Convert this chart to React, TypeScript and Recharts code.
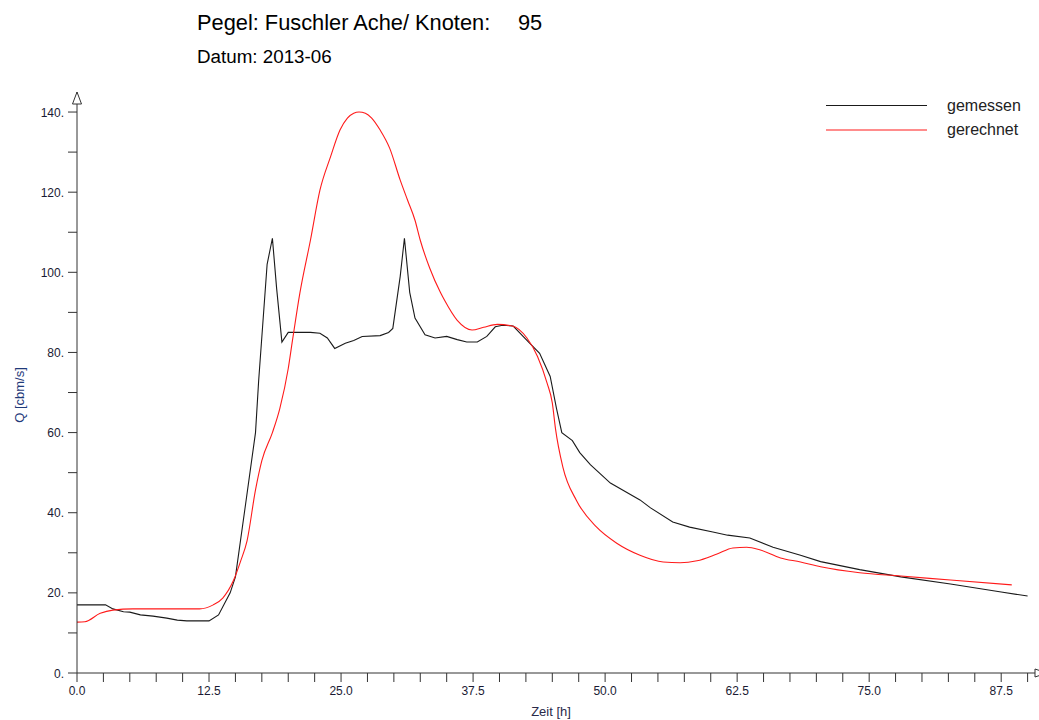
import React from 'react';
import { LineChart, Line, XAxis, YAxis, Legend, ReferenceDot } from 'recharts';

const titleLeft = 'Pegel: Fuschler Ache/ Knoten:';
const titleRight = '95';
const subtitleText = 'Datum: 2013-06';
const xAxisTitle = 'Zeit [h]';
const yAxisTitle = 'Q [cbm/s]';

const gemessenT = [0, 2.7, 3.4, 4.4, 5.0, 6.0, 7.2, 8.5, 9.5, 10.4, 12.5, 13.4, 14.5, 15.0, 15.9, 16.9, 17.2, 18.0, 18.5, 18.9, 19.4, 20.0, 22.1, 23.0, 23.7, 24.4, 25.4, 26.2, 27.0, 28.7, 29.5, 29.9, 30.6, 31.0, 31.5, 32.0, 32.95, 33.9, 35.0, 36.0, 36.9, 37.9, 38.8, 39.6, 40.3, 41.3, 42.6, 43.8, 44.8, 45.4, 45.9, 46.9, 47.6, 48.6, 50.5, 53.3, 54.3, 56.4, 58.0, 60.2, 61.6, 63.7, 65.9, 68.5, 70.4, 74.1, 78.0, 82.7, 87.5, 90.0];
const gemessenQ = [17, 17, 16, 15.3, 15.2, 14.5, 14.2, 13.7, 13.2, 13, 13, 14.5, 20, 24, 41, 60, 73, 102, 108.5, 96, 82.6, 85, 85, 84.8, 83.6, 81, 82.3, 83, 84, 84.2, 85, 86, 99, 108.5, 95, 88.6, 84.4, 83.6, 84, 83.2, 82.6, 82.6, 84, 86.4, 86.8, 86.6, 83, 79.8, 74, 66, 60, 58, 55, 52, 47.4, 43.2, 41.2, 37.7, 36.4, 35.2, 34.4, 33.7, 31.4, 29.4, 27.8, 25.8, 24, 22.2, 20.2, 19.2];

const gerechnetT = [0, 0.75, 2.2, 3.4, 5.3, 11.6, 12.9, 13.8, 14.8, 15.5, 16.1, 16.9, 17.5, 18.5, 19.2, 20.0, 20.4, 21.1, 22.1, 23.0, 24.0, 24.9, 25.6, 26.2, 26.7, 27.3, 27.9, 28.7, 29.6, 30.6, 31.3, 32.0, 32.5, 33.4, 34.4, 34.8, 36.0, 37.4, 38.5, 39.8, 41.2, 42.6, 43.6, 44.5, 45.0, 45.3, 46.0, 47.3, 49.2, 51.1, 53.3, 55.5, 57.1, 58.7, 60.6, 62.1, 63.4, 64.7, 66.6, 68.5, 70.4, 74.1, 78.0, 82.7, 88.5];
const gerechnetQ = [12.7, 12.8, 14.9, 15.7, 16, 16, 17, 18.7, 23, 28, 33, 45.7, 53, 60, 66, 76, 83, 94.8, 108, 120.5, 128.8, 135.5, 138.5, 139.7, 140, 139.7, 138.5, 135.5, 131, 123, 118, 113, 108, 101, 95, 93, 88, 85.6, 86.3, 87, 86.6, 83.6, 79, 72.4, 67.4, 61, 51.4, 43, 36.4, 32.4, 29.4, 27.7, 27.5, 28, 29.7, 31.2, 31.4, 30.7, 28.7, 27.7, 26.5, 25, 24.2, 23.2, 22];

const xTicks = [0, 2.5, 5, 7.5, 10, 12.5, 15, 17.5, 20, 22.5, 25, 27.5, 30, 32.5, 35, 37.5, 40, 42.5, 45, 47.5, 50, 52.5, 55, 57.5, 60, 62.5, 65, 67.5, 70, 72.5, 75, 77.5, 80, 82.5, 85, 87.5, 90];
const xLabelTicks = [0, 12.5, 25, 37.5, 50, 62.5, 75, 87.5];
const yTicks = [0, 10, 20, 30, 40, 50, 60, 70, 80, 90, 100, 110, 120, 130, 140];
const yLabelTicks = [0, 20, 40, 60, 80, 100, 120, 140];

const gemessenData = gemessenT.map((t, i) => ({ t, q: gemessenQ[i] }));
const gerechnetData = gerechnetT.map((t, i) => ({ t, q: gerechnetQ[i] }));

const FONT = '"Liberation Sans", Arial, sans-serif';
const AXIS = '#333333';

const XTick = (props: any) => {
  const { x, y, payload } = props;
  if (!xLabelTicks.includes(payload.value)) return <g />;
  return (
    <text x={x} y={y} dy={11} textAnchor="middle" fontFamily={FONT} fontSize={12} fill="#1a1a33">
      {payload.value.toFixed(1)}
    </text>
  );
};

const YTick = (props: any) => {
  const { x, y, payload } = props;
  if (!yLabelTicks.includes(payload.value)) return <g />;
  return (
    <text x={x} y={y} dy={4.5} textAnchor="end" fontFamily={FONT} fontSize={12} fill="#1a1a33">
      {payload.value + '.'}
    </text>
  );
};

const renderLegend = (props: any) => {
  const payload = props.payload || [];
  return (
    <svg width={213} height={50} style={{ display: 'block' }}>
      {payload.map((e: any, i: number) => (
        <g key={i}>
          <line x1={0} x2={101} y1={10.5 + i * 24.5} y2={10.5 + i * 24.5} stroke={e.color} strokeWidth={1.2} />
          <text x={121} y={15.5 + i * 24.5} fontFamily={FONT} fontSize={16} fill="#222222">
            {e.value}
          </text>
        </g>
      ))}
    </svg>
  );
};

const UpArrow = (p: any) => (
  <path d={`M${p.cx},${p.cy} L${p.cx - 4.5},${p.cy + 12} L${p.cx + 4.5},${p.cy + 12} Z`} fill="#ffffff" stroke={AXIS} strokeWidth={1} />
);
const RightArrow = (p: any) => (
  <path d={`M${p.cx},${p.cy - 4} L${p.cx + 12},${p.cy} L${p.cx},${p.cy + 4} Z`} fill="#ffffff" stroke={AXIS} strokeWidth={1} />
);

export default function App() {
  return (
    <div style={{ position: 'absolute', left: 0, top: 0, width: 1039, height: 720, background: '#ffffff', overflow: 'hidden' }}>
      <LineChart width={1039} height={720} margin={{ top: 92, right: 4, left: 17, bottom: 17 }}>
        <XAxis
          type="number"
          dataKey="t"
          domain={[0, 90.7]}
          ticks={xTicks}
          interval={0}
          tick={<XTick />}
          tickSize={9}
          tickMargin={2}
          height={30}
          stroke={AXIS}
          axisLine={{ stroke: AXIS }}
          tickLine={{ stroke: AXIS }}
          allowDataOverflow
        />
        <YAxis
          type="number"
          domain={[0, 145]}
          ticks={yTicks}
          interval={0}
          tick={<YTick />}
          tickSize={9}
          tickMargin={4}
          width={60}
          stroke={AXIS}
          axisLine={{ stroke: AXIS }}
          tickLine={{ stroke: AXIS }}
          allowDataOverflow
        />
        <Legend
          layout="horizontal"
          verticalAlign="middle"
          align="center"
          content={renderLegend}
          wrapperStyle={{ position: 'absolute', left: 826, top: 95, width: 213, height: 50 }}
        />
        <Line
          data={gemessenData}
          dataKey="q"
          name="gemessen"
          type="linear"
          stroke="#1a1a1a"
          strokeWidth={1.1}
          dot={false}
          activeDot={false}
          isAnimationActive={false}
        />
        <Line
          data={gerechnetData}
          dataKey="q"
          name="gerechnet"
          type="monotone"
          stroke="#ff1a1a"
          strokeWidth={1.1}
          dot={false}
          activeDot={false}
          isAnimationActive={false}
        />
        <ReferenceDot x={0} y={145} r={0} ifOverflow="visible" shape={UpArrow} />
        <ReferenceDot x={90.7} y={0} r={0} ifOverflow="visible" shape={RightArrow} />
      </LineChart>
      <svg width={1039} height={720} style={{ position: 'absolute', left: 0, top: 0, pointerEvents: 'none' }}>
        <text y={30} fontFamily={FONT} fontSize={21.8} fill="#000000">
          <tspan x={197}>{titleLeft}</tspan>
          <tspan x={518}>{titleRight}</tspan>
        </text>
        <text x={197} y={63} fontFamily={FONT} fontSize={18.8} fill="#000000">{subtitleText}</text>
        <text x={551} y={716} textAnchor="middle" fontFamily={FONT} fontSize={13} fill="#2a2a4a">{xAxisTitle}</text>
        <text x={24} y={395} textAnchor="middle" fontFamily={FONT} fontSize={13} fill="#1f3a7a" transform="rotate(-90 24 395)">{yAxisTitle}</text>
      </svg>
    </div>
  );
}
